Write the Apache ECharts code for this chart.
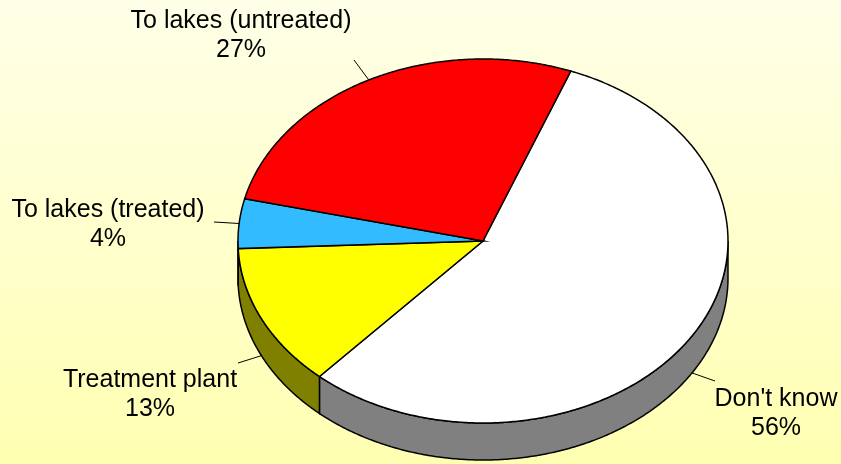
<!DOCTYPE html>
<html>
<head>
<meta charset="utf-8">
<style>
  html, body { margin: 0; padding: 0; }
  #pie { width: 841px; height: 464px; }
</style>
<script src="https://cdn.jsdelivr.net/npm/echarts@6/dist/echarts.min.js"></script>
</head>
<body>
<div id="pie"></div>
<script>
// clockwise from the first slice
const categories = ['Don\'t know', 'Treatment plant', 'To lakes (treated)', 'To lakes (untreated)'];
const shares = [55.8, 12.7, 4.4, 27.1];
const topColors = ['#ffffff', '#ffff00', '#33bbff', '#ff0000'];
const wallColors = ['#808080', '#808000', '#1a5e80', '#800000'];

// where each label sits and where its leader line stops
const labelCenters = [[776, 414], [150, 395], [108, 225], [241, 36]];
const leaderEnds = [[715, 381], [238, 363], [214, 222], [354, 60]];

// tilted pie
const cx = 483, cy = 241, rx = 245, ry = 182, depth = 37;
const startAngle = 21;
const total = shares.reduce((a, b) => a + b, 0);

function angleOf(v) {
  return echarts.number.linearMap(v, [0, total], [startAngle, startAngle + 360]);
}

function sliceAngles(i) {
  const before = shares.slice(0, i).reduce((a, b) => a + b, 0);
  return [angleOf(before), angleOf(before + shares[i])];
}

// angle is in degrees, clockwise from 12 o'clock
function rimPoint(deg, dy) {
  const r = deg * Math.PI / 180;
  return [cx + rx * Math.sin(r), cy - ry * Math.cos(r) + (dy || 0)];
}

function arc(a0, a1, dy) {
  const pts = [];
  const n = Math.max(2, Math.ceil(Math.abs(a1 - a0) * 2));
  for (let k = 0; k <= n; k++) {
    pts.push(rimPoint(a0 + (a1 - a0) * k / n, dy));
  }
  return pts;
}

function renderWall(params) {
  const i = params.dataIndex;
  const [a0, a1] = sliceAngles(i);
  // only the front half of the rim shows
  const from = Math.max(a0, 90);
  const to = Math.min(a1, 270);
  if (to <= from) return null;
  return {
    type: 'polygon',
    shape: { points: arc(from, to, 0).concat(arc(to, from, depth)) },
    style: { fill: wallColors[i], stroke: '#000', lineWidth: 1.5 }
  };
}

function renderTop(params) {
  const i = params.dataIndex;
  const [a0, a1] = sliceAngles(i);
  return {
    type: 'polygon',
    shape: { points: [[cx, cy]].concat(arc(a0, a1, 0)) },
    style: { fill: topColors[i], stroke: '#000', lineWidth: 1.5 }
  };
}

function renderLabel(params) {
  const i = params.dataIndex;
  const [a0, a1] = sliceAngles(i);
  const mid = (a0 + a1) / 2;
  const norm = mid % 360;
  const from = rimPoint(mid, norm > 90 && norm < 270 ? depth : 0);
  return {
    type: 'group',
    children: [
      {
        type: 'line',
        shape: { x1: from[0], y1: from[1], x2: leaderEnds[i][0], y2: leaderEnds[i][1] },
        style: { stroke: '#000', lineWidth: 1 }
      },
      {
        type: 'text',
        x: labelCenters[i][0],
        y: labelCenters[i][1],
        style: {
          text: categories[i] + '\n' + Math.round(shares[i]) + '%',
          fill: '#000',
          font: '25px "Liberation Sans", Arial, sans-serif',
          lineHeight: 29,
          align: 'center',
          verticalAlign: 'middle'
        }
      }
    ]
  };
}

const myChart = echarts.init(document.getElementById('pie'));
myChart.setOption({
  animation: false,
  backgroundColor: new echarts.graphic.LinearGradient(0, 0, 0, 1, [
    { offset: 0, color: '#ffffe8' },
    { offset: 1, color: '#ffffb2' }
  ]),
  series: [
    { type: 'custom', coordinateSystem: 'none', silent: true, renderItem: renderWall, data: shares, z: 1 },
    { type: 'custom', coordinateSystem: 'none', silent: true, renderItem: renderTop, data: shares, z: 2 },
    { type: 'custom', coordinateSystem: 'none', silent: true, renderItem: renderLabel, data: shares, z: 3 }
  ]
});
</script>
</body>
</html>
